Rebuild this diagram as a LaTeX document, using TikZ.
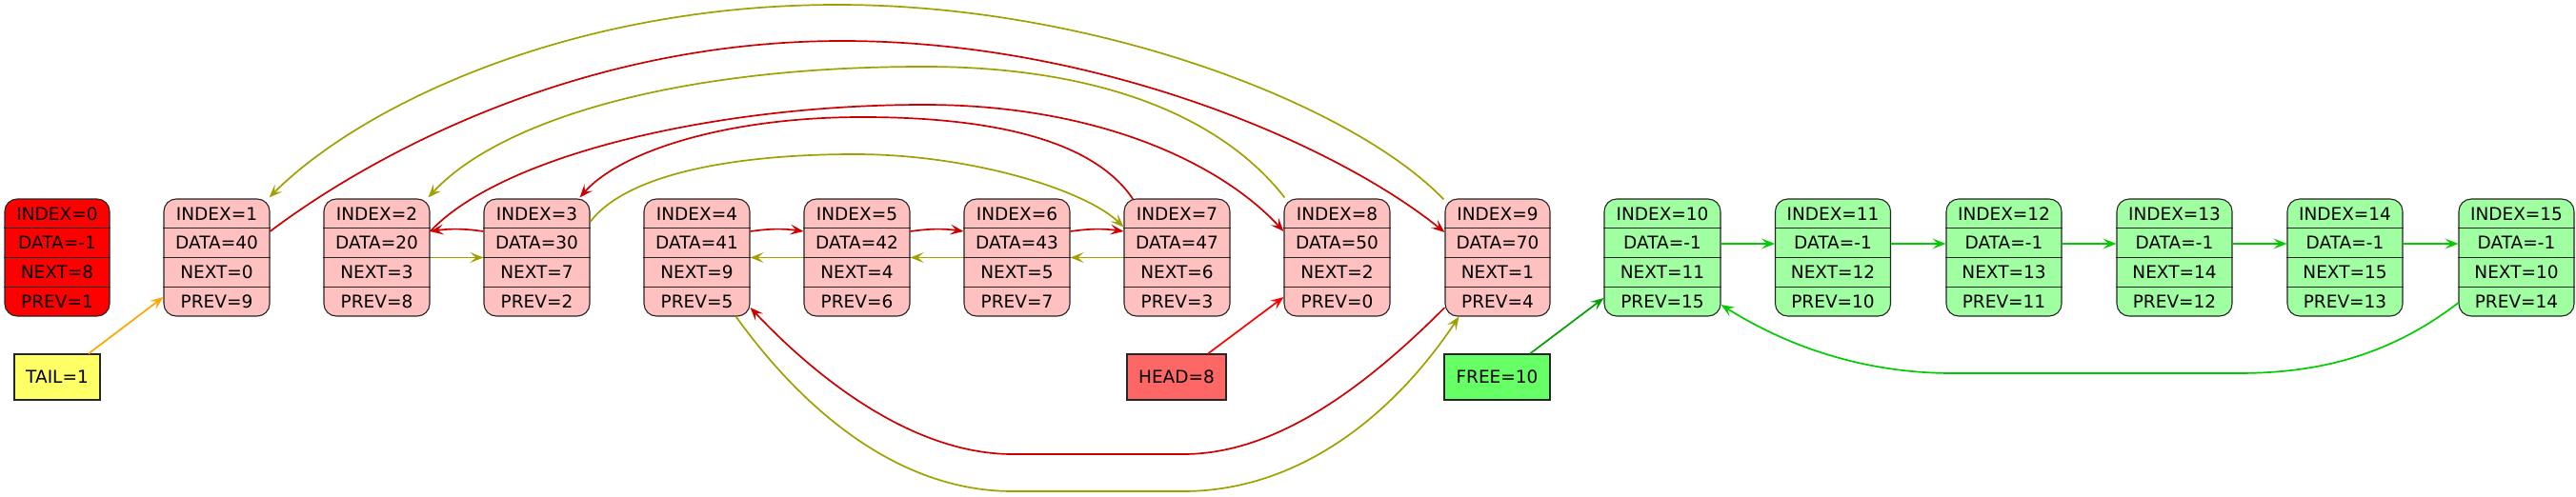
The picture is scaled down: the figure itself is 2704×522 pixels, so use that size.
\documentclass[tikz,border=0pt]{standalone}
\usepackage{fontspec}
\setmainfont{DejaVu Sans}
\usetikzlibrary{arrows.meta}
\definecolor{pinkfill}{HTML}{FFC0C0}
\definecolor{greenfill}{HTML}{A0FFA0}
\definecolor{tailfill}{HTML}{FFFF66}
\definecolor{headfill}{HTML}{FF6666}
\definecolor{freefill}{HTML}{66FF66}
\definecolor{rd}{HTML}{CC0000}
\definecolor{ol}{HTML}{A0A000}
\definecolor{gr}{HTML}{00CC00}
\definecolor{dgr}{HTML}{00A000}
\definecolor{orng}{HTML}{FFA500}
\tikzset{
  rec/.style={rectangle, draw=black!85, line width=1.1pt, rounded corners=13pt, minimum height=123pt, inner sep=0pt},
  sep/.style={draw=black!85, line width=1.1pt},
  lbl/.style={inner sep=0pt, font=\fontsize{18.5}{22}\selectfont},
  ptr/.style={rectangle, draw=black!85, line width=1.1pt, minimum height=48pt, inner sep=0pt, font=\fontsize{18.5}{22}\selectfont},
  ed/.style={line width=1.7pt, -{Stealth[length=14pt,width=11pt,inset=6pt]}},
}
\newcommand{\recnode}[8]{%
  \node[rec, minimum width=#3pt, fill=#4] (#1) at (#2,270.5) {};
  \draw[sep] ([yshift=30.75pt]#1.west) -- ([yshift=30.75pt]#1.east);
  \draw[sep] (#1.west) -- (#1.east);
  \draw[sep] ([yshift=-30.75pt]#1.west) -- ([yshift=-30.75pt]#1.east);
  \node[lbl] (#1i) at ([yshift=46pt]#1.center) {INDEX=#5};
  \node[lbl] (#1d) at ([yshift=15.4pt]#1.center) {DATA=#6};
  \node[lbl] (#1n) at ([yshift=-15.4pt]#1.center) {NEXT=#7};
  \node[lbl] (#1p) at ([yshift=-46pt]#1.center) {PREV=#8};
}
\begin{document}
\begin{tikzpicture}[x=1pt,y=-1pt]
\useasboundingbox (0,0) rectangle (2704,522);
\recnode{n0}{60}{110}{red}{0}{-1}{8}{1}
\recnode{n1}{227.5}{111}{pinkfill}{1}{40}{0}{9}
\recnode{n2}{395.5}{111}{pinkfill}{2}{20}{3}{8}
\recnode{n3}{563.5}{111}{pinkfill}{3}{30}{7}{2}
\recnode{n4}{731.5}{111}{pinkfill}{4}{41}{9}{5}
\recnode{n5}{899.5}{111}{pinkfill}{5}{42}{4}{6}
\recnode{n6}{1067.5}{111}{pinkfill}{6}{43}{5}{7}
\recnode{n7}{1235.5}{111}{pinkfill}{7}{47}{6}{3}
\recnode{n8}{1403.5}{111}{pinkfill}{8}{50}{2}{0}
\recnode{n9}{1572}{110}{pinkfill}{9}{70}{1}{4}
\recnode{n10}{1745}{122}{greenfill}{10}{-1}{11}{15}
\recnode{n11}{1924}{121}{greenfill}{11}{-1}{12}{10}
\recnode{n12}{2103.5}{121}{greenfill}{12}{-1}{13}{11}
\recnode{n13}{2282.5}{121}{greenfill}{13}{-1}{14}{12}
\recnode{n14}{2461.5}{121}{greenfill}{14}{-1}{15}{13}
\recnode{n15}{2641.5}{121}{greenfill}{15}{-1}{10}{14}
\node[ptr, fill=tailfill, minimum width=90pt] (tail) at (60,396) {TAIL=1};
\node[ptr, fill=headfill, minimum width=104pt] (head) at (1235,396) {HEAD=8};
\node[ptr, fill=freefill, minimum width=111pt] (free) at (1571.5,396) {FREE=10};
% pointer edges
\draw[ed, orng] ([xshift=33pt]tail.north) -- ([yshift=-41.5pt]n1.west);
\draw[ed, red] ([xshift=33pt]head.north) -- ([yshift=-41.5pt]n8.west);
\draw[ed, dgr] ([xshift=34.5pt]free.north) -- ([yshift=-42.5pt]n10.west);
% prev (red) edges
\draw[ed, rd] ([yshift=27.5pt]n4.east) to[bend left=8] ([yshift=27.5pt]n5.west);
\draw[ed, rd] ([yshift=27.5pt]n5.east) to[bend left=8] ([yshift=27.5pt]n6.west);
\draw[ed, rd] ([yshift=27.5pt]n6.east) to[bend left=8] ([yshift=27.5pt]n7.west);
\draw[ed, rd] ([yshift=27.5pt]n3.west) to[bend right=8] ([yshift=27.5pt]n2.east);
\draw[ed, rd] ([yshift=27.5pt]n1.east) .. controls (380,170) and (600,43) .. (884,43)
   .. controls (1150,43) and (1400,150) .. ([yshift=26.5pt]n9.west);
\draw[ed, rd] ([yshift=27.5pt]n2.east) .. controls (530,160) and (760,110) .. (970,110)
   .. controls (1150,110) and (1280,170) .. ([yshift=27.5pt]n8.west);
\draw[ed, rd] ([xshift=10pt,yshift=-1pt]n7.north west) .. controls (1150,150) and (1050,123) .. (905,123)
   .. controls (760,123) and (650,160) .. ([xshift=-11pt,yshift=1pt]n3.north east);
\draw[ed, rd] ([yshift=-52.5pt]n9.west) .. controls (1420,420) and (1330,477) .. (1242,477) -- (1063,477)
   .. controls (960,477) and (860,400) .. ([yshift=-52.5pt]n4.east);
% next (olive) edges
\draw[ed, ol] (n2.east) -- (n3.west);
\draw[ed, ol] (n5.west) -- (n4.east);
\draw[ed, ol] (n6.west) -- (n5.east);
\draw[ed, ol] (n7.west) -- (n6.east);
\draw[ed, ol] ([yshift=37.5pt]n3.east) .. controls (660,180) and (780,162) .. (897,162)
   .. controls (1020,162) and (1140,200) .. ([yshift=32pt]n7.west);
\draw[ed, ol] ([xshift=1pt,yshift=1pt]n8.north west) .. controls (1280,120) and (1150,70) .. (970,70)
   .. controls (700,70) and (520,130) .. ([xshift=-2pt,yshift=1pt]n2.north east);
\draw[ed, ol] ([xshift=-1pt,yshift=-1pt]n9.north west) .. controls (1420,110) and (1150,5) .. (879,5)
   .. controls (600,5) and (380,110) .. ([xshift=-1pt,yshift=1pt]n1.north east);
\draw[ed, ol] ([xshift=-15pt]n4.south east) .. controls (850,440) and (950,516) .. (1063,516) -- (1242,516)
   .. controls (1360,516) and (1460,440) .. ([xshift=15pt]n9.south west);
% free list (green) edges
\draw[ed, gr] ([yshift=14.5pt]n10.east) -- ([yshift=14.5pt]n11.west);
\draw[ed, gr] ([yshift=14.5pt]n11.east) -- ([yshift=14.5pt]n12.west);
\draw[ed, gr] ([yshift=14.5pt]n12.east) -- ([yshift=14.5pt]n13.west);
\draw[ed, gr] ([yshift=14.5pt]n13.east) -- ([yshift=14.5pt]n14.west);
\draw[ed, gr] ([yshift=14.5pt]n14.east) -- ([yshift=14.5pt]n15.west);
\draw[ed, gr] ([yshift=-47.5pt]n15.west) .. controls (2500,380) and (2420,392) .. (2348,392) -- (2050,392)
   .. controls (1950,392) and (1870,360) .. ([yshift=-49.5pt]n10.east);
\end{tikzpicture}
\end{document}
